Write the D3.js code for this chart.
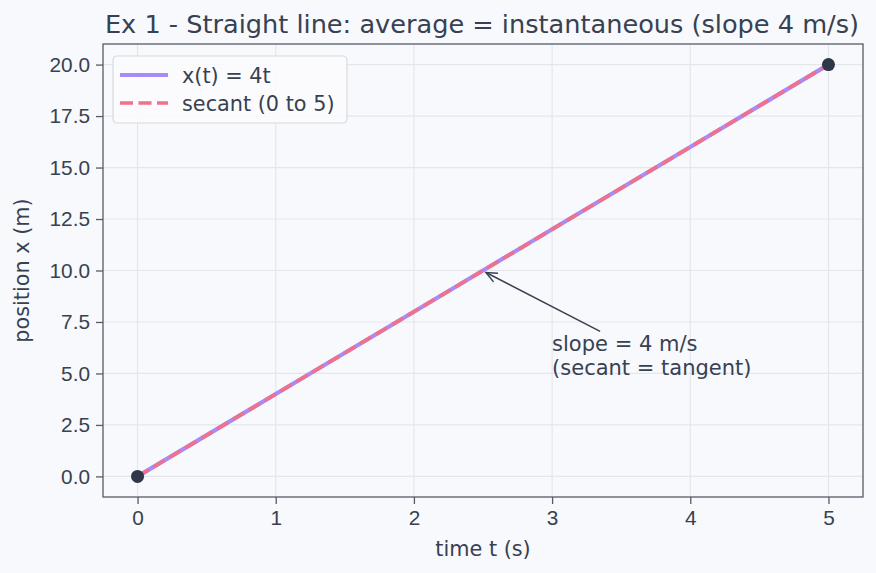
<!DOCTYPE html>
<html>
<head>
<meta charset="utf-8">
<script src="https://cdn.jsdelivr.net/npm/d3@7"></script>
<style>
  html, body { margin: 0; padding: 0; background: #f8f9fc; }
  svg { display: block; font-family: "DejaVu Sans", sans-serif; }
</style>
</head>
<body>
<script>
// data
const lineT = [0, 1, 2, 3, 4, 5];
const lineX = [0, 4, 8, 12, 16, 20];
const secantT = [0, 5];
const secantX = [0, 20];
const xTicks = [0, 1, 2, 3, 4, 5];
const yTicks = [0, 2.5, 5, 7.5, 10, 12.5, 15, 17.5, 20];
const notePoint = [2.5, 10];
const noteText = [3, 5];
const noteLines = ["slope = 4 m/s", "(secant = tangent)"];

const width = 876, height = 573;
const margin = {left: 103, right: 13, top: 44, bottom: 76};
const ink = "#374151";
const fs = "20.8px";

const svg = d3.select("body").append("svg")
  .attr("width", width)
  .attr("height", height);

svg.append("rect").attr("width", width).attr("height", height).attr("fill", "#f8f9fc");

const x = d3.scaleLinear().domain([-0.25, 5.25]).range([margin.left, width - margin.right]);
const y = d3.scaleLinear().domain([-1, 21]).range([height - margin.bottom, margin.top]);

// grid
const grid = svg.append("g");
grid.selectAll(".gx").data(xTicks).join("line")
  .attr("x1", d => x(d)).attr("x2", d => x(d))
  .attr("y1", margin.top).attr("y2", height - margin.bottom)
  .attr("stroke", "#e3e7ec").attr("stroke-width", 1.2);
grid.selectAll(".gy").data(yTicks).join("line")
  .attr("y1", d => y(d)).attr("y2", d => y(d))
  .attr("x1", margin.left).attr("x2", width - margin.right)
  .attr("stroke", "#e3e7ec").attr("stroke-width", 1.2);

// axes
const xAxis = svg.append("g")
  .attr("transform", "translate(0," + (height - margin.bottom) + ")")
  .call(d3.axisBottom(x).tickValues(xTicks).tickFormat(d3.format("d")).tickSize(7).tickPadding(6));
const yAxis = svg.append("g")
  .attr("transform", "translate(" + margin.left + ",0)")
  .call(d3.axisLeft(y).tickValues(yTicks).tickFormat(d3.format(".1f")).tickSize(7).tickPadding(6));

[xAxis, yAxis].forEach(a => {
  a.select(".domain").remove();
  a.selectAll(".tick line").attr("stroke", "#555b68").attr("stroke-width", 1.3);
  a.selectAll(".tick text").attr("fill", ink).style("font-size", fs);
});

svg.append("rect")
  .attr("x", margin.left).attr("y", margin.top)
  .attr("width", width - margin.left - margin.right)
  .attr("height", height - margin.top - margin.bottom)
  .attr("fill", "none").attr("stroke", "#555b68").attr("stroke-width", 1.3);

// lines
const line = d3.line().x(d => x(d[0])).y(d => y(d[1]));
svg.append("path")
  .datum(lineT.map((t, i) => [t, lineX[i]]))
  .attr("d", line).attr("fill", "none")
  .attr("stroke", "#a78bfa").attr("stroke-width", 4.2);
svg.append("path")
  .datum(secantT.map((t, i) => [t, secantX[i]]))
  .attr("d", line).attr("fill", "none")
  .attr("stroke", "#f07189").attr("stroke-width", 3.6)
  .attr("stroke-dasharray", "13,5.5");

svg.selectAll(".pt").data(secantT.map((t, i) => [t, secantX[i]])).join("circle")
  .attr("cx", d => x(d[0])).attr("cy", d => y(d[1])).attr("r", 6.5)
  .attr("fill", "#2d3748");

// annotation
const tx = x(noteText[0]), ty = y(noteText[1]);
const px = x(notePoint[0]) + 3, py = y(notePoint[1]) + 2;
const sx = tx + 48, sy = ty - 42;
svg.append("line")
  .attr("x1", sx).attr("y1", sy).attr("x2", px).attr("y2", py)
  .attr("stroke", ink).attr("stroke-width", 1.5);
const ang = Math.atan2(sy - py, sx - px);
const head = 12, spread = 0.42;
svg.append("path")
  .attr("d", "M" + (px + head * Math.cos(ang + spread)) + "," + (py + head * Math.sin(ang + spread)) +
    "L" + px + "," + py +
    "L" + (px + head * Math.cos(ang - spread)) + "," + (py + head * Math.sin(ang - spread)))
  .attr("fill", "none").attr("stroke", ink).attr("stroke-width", 1.5);
svg.append("text")
  .attr("x", tx).attr("y", ty - 22)
  .attr("fill", ink).style("font-size", "21px")
  .selectAll("tspan").data(noteLines).join("tspan")
  .attr("x", tx).attr("dy", (d, i) => i === 0 ? 0 : 23.5)
  .text(d => d);

// title and labels
svg.append("text")
  .attr("x", 482).attr("y", 33)
  .attr("text-anchor", "middle").attr("fill", ink)
  .style("font-size", "25.6px")
  .text("Ex 1 - Straight line: average = instantaneous (slope 4 m/s)");
svg.append("text")
  .attr("x", (margin.left + width - margin.right) / 2).attr("y", 556)
  .attr("text-anchor", "middle").attr("fill", ink)
  .style("font-size", fs)
  .text("time t (s)");
svg.append("text")
  .attr("transform", "translate(29," + ((margin.top + height - margin.bottom) / 2) + ") rotate(-90)")
  .attr("text-anchor", "middle").attr("fill", ink)
  .style("font-size", fs)
  .text("position x (m)");

// legend
const leg = svg.append("g").attr("transform", "translate(113,56)");
leg.append("rect")
  .attr("width", 234).attr("height", 67).attr("rx", 4)
  .attr("fill", "#fcfcfd").attr("fill-opacity", 0.85)
  .attr("stroke", "#d7dae0").attr("stroke-width", 1.2);
const legItems = [
  {label: "x(t) = 4t", color: "#a78bfa", dash: null, w: 4.2},
  {label: "secant (0 to 5)", color: "#f07189", dash: "13,5.5", w: 3.6}
];
legItems.forEach((it, i) => {
  const cy = 19 + i * 28;
  leg.append("line")
    .attr("x1", 7).attr("x2", 55).attr("y1", cy).attr("y2", cy)
    .attr("stroke", it.color).attr("stroke-width", it.w)
    .attr("stroke-dasharray", it.dash);
  leg.append("text")
    .attr("x", 69).attr("y", cy + 7.5)
    .attr("fill", ink).style("font-size", fs)
    .text(it.label);
});
</script>
</body>
</html>
